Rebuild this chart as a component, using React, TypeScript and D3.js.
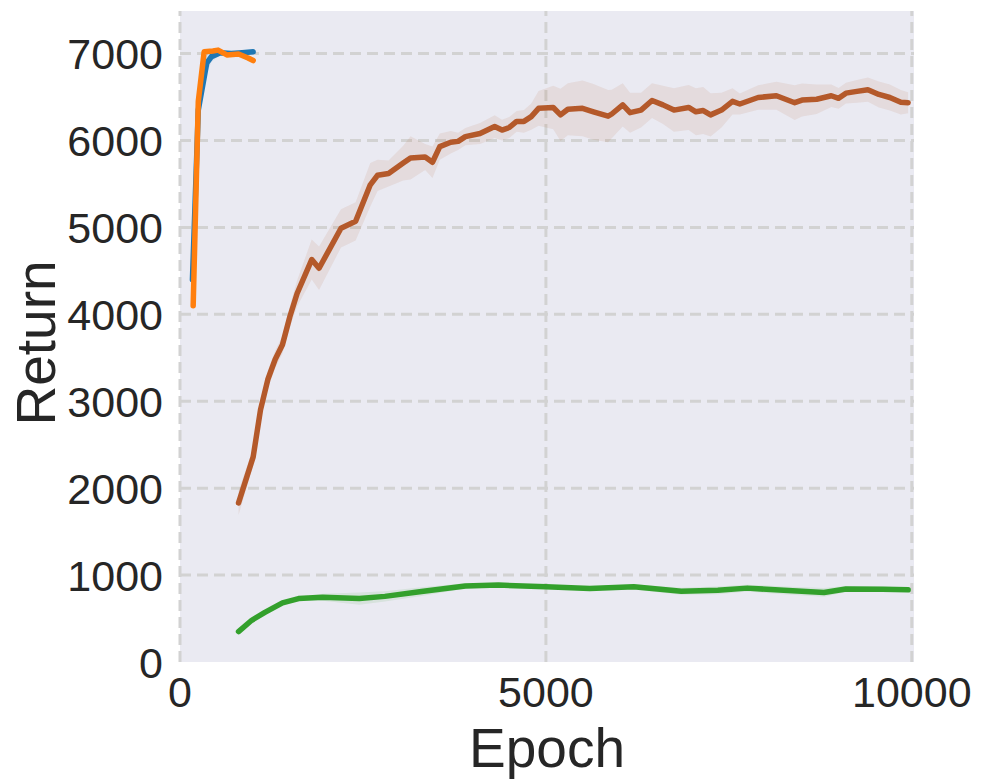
import React, { useEffect, useRef } from 'react';
import * as d3 from 'd3';

// blue run
const blueEpochs = [170, 250, 365, 430, 550, 700, 850, 1000];
const blueValues = [4400, 6350, 6890, 6965, 7010, 7000, 7010, 7020];
const blueSpread = [60, 150, 120, 60, 30, 20, 20, 20];

// orange run
const orangeEpochs = [180, 250, 330, 450, 520, 640, 800, 930, 1000];
const orangeValues = [4100, 6450, 7020, 7030, 7040, 6985, 6995, 6950, 6920];
const orangeSpread = [120, 80, 20, 20, 20, 25, 25, 30, 35];

// brown run
const brownEpochs = [800, 1000, 1100, 1200, 1300, 1400, 1500, 1600, 1800, 1900, 2200, 2400, 2600, 2700, 2850,
  3050, 3150, 3350, 3450, 3550, 3700, 3800, 3900, 4100, 4300, 4400, 4500, 4600, 4700, 4800, 4900, 5100, 5200,
  5300, 5500, 5650, 5850, 5900, 6050, 6150, 6300, 6450, 6600, 6750, 6950, 7050, 7150, 7250, 7400, 7550, 7650,
  7900, 8150, 8400, 8500, 8700, 8900, 9000, 9100, 9250, 9400, 9550, 9700, 9850, 9950];
const brownValues = [1830, 2360, 2900, 3250, 3480, 3650, 3970, 4240, 4630, 4530, 4990, 5070, 5490, 5600, 5620,
  5740, 5800, 5810, 5750, 5930, 5980, 5990, 6045, 6080, 6160, 6120, 6150, 6220, 6220, 6275, 6370, 6380, 6295,
  6360, 6370, 6330, 6280, 6305, 6410, 6320, 6350, 6460, 6410, 6350, 6380, 6330, 6345, 6295, 6350, 6450, 6420,
  6495, 6515, 6435, 6465, 6475, 6515, 6485, 6545, 6565, 6585, 6530, 6495, 6440, 6435];
const brownSpread = [140, 100, 100, 100, 100, 100, 120, 150, 230, 250, 220, 220, 250, 180, 150,
  200, 250, 150, 180, 150, 130, 100, 100, 120, 130, 120, 120, 120, 130, 150, 200, 250, 300,
  300, 320, 320, 300, 280, 250, 230, 200, 200, 220, 250, 260, 270, 270, 250, 200, 150, 120,
  140, 160, 200, 190, 170, 130, 120, 120, 130, 140, 150, 150, 140, 120];

// green run
const greenEpochs = [800, 980, 1160, 1400, 1620, 1950, 2450, 2800, 3300, 3900, 4350, 5000, 5600, 6200, 6850,
  7350, 7750, 8250, 8800, 9100, 9600, 9950];
const greenValues = [350, 480, 570, 680, 730, 745, 730, 755, 810, 875, 885, 865, 845, 865, 815,
  825, 850, 825, 800, 840, 838, 830];
const greenSpread = [10, 15, 20, 20, 20, 40, 70, 60, 50, 30, 25, 20, 25, 30, 40,
  45, 40, 45, 50, 35, 30, 25];

const xTicks = [0, 5000, 10000];
const yTicks = [0, 1000, 2000, 3000, 4000, 5000, 6000, 7000];

const series = [
  { name: 'brown', color: '#b4592a', epochs: brownEpochs, values: brownValues, spread: brownSpread },
  { name: 'green', color: '#33a02c', epochs: greenEpochs, values: greenValues, spread: greenSpread },
  { name: 'blue', color: '#1f77b4', epochs: blueEpochs, values: blueValues, spread: blueSpread },
  { name: 'orange', color: '#ff7f0e', epochs: orangeEpochs, values: orangeValues, spread: orangeSpread },
];

const App = () => {
  const svgRef = useRef<SVGSVGElement>(null);

  useEffect(() => {
    const width = 984;
    const height = 784;
    const margin = { top: 11, right: 70, bottom: 122, left: 180 };
    const font = '"Liberation Sans", Arial, sans-serif';
    const textColor = '#262626';

    const x = d3.scaleLinear().domain([0, 10030]).range([margin.left, width - margin.right]);
    const y = d3.scaleLinear().domain([0, 7490]).range([height - margin.bottom, margin.top]);

    const svg = d3.select(svgRef.current);
    svg.selectAll('*').remove();

    // plot background
    svg.append('rect')
      .attr('x', margin.left)
      .attr('y', margin.top)
      .attr('width', x.range()[1] - x.range()[0])
      .attr('height', y.range()[0] - y.range()[1])
      .attr('fill', '#eaeaf2');

    // dashed grid
    const grid = svg.append('g')
      .attr('stroke', '#d2d2d2')
      .attr('stroke-width', 3)
      .attr('stroke-dasharray', '11,6');
    grid.selectAll('.hgrid')
      .data(yTicks.filter(t => t > 0))
      .join('line')
      .attr('x1', x.range()[0])
      .attr('x2', x.range()[1])
      .attr('y1', d => y(d))
      .attr('y2', d => y(d));
    grid.selectAll('.vgrid')
      .data(xTicks)
      .join('line')
      .attr('x1', d => x(d))
      .attr('x2', d => x(d))
      .attr('y1', y.range()[0])
      .attr('y2', y.range()[1]);

    // bands then lines
    series.forEach(s => {
      const pts = s.epochs.map((e, i) => ({ e, v: s.values[i], sd: s.spread[i] }));
      const area = d3.area<any>()
        .x(d => x(d.e))
        .y0(d => y(d.v - d.sd))
        .y1(d => y(d.v + d.sd));
      svg.append('path')
        .attr('d', area(pts))
        .attr('fill', s.color)
        .attr('fill-opacity', 0.1);
    });

    series.forEach(s => {
      const pts = s.epochs.map((e, i) => ({ e, v: s.values[i] }));
      const line = d3.line<any>()
        .x(d => x(d.e))
        .y(d => y(d.v));
      svg.append('path')
        .attr('d', line(pts))
        .attr('fill', 'none')
        .attr('stroke', s.color)
        .attr('stroke-width', 5.5)
        .attr('stroke-linecap', 'round')
        .attr('stroke-linejoin', 'round');
    });

    // tick labels
    svg.append('g')
      .selectAll('text')
      .data(yTicks)
      .join('text')
      .attr('x', 163)
      .attr('y', d => y(d) + 15.5)
      .attr('text-anchor', 'end')
      .attr('font-family', font)
      .attr('font-size', 43)
      .attr('fill', textColor)
      .text(d => d);

    svg.append('g')
      .selectAll('text')
      .data(xTicks)
      .join('text')
      .attr('x', d => x(d))
      .attr('y', 707)
      .attr('text-anchor', 'middle')
      .attr('font-family', font)
      .attr('font-size', 43)
      .attr('fill', textColor)
      .text(d => d);

    // axis labels
    svg.append('text')
      .attr('x', 547)
      .attr('y', 767)
      .attr('text-anchor', 'middle')
      .attr('font-family', font)
      .attr('font-size', 55)
      .attr('fill', textColor)
      .text('Epoch');

    svg.append('text')
      .attr('transform', 'translate(55,343) rotate(-90)')
      .attr('text-anchor', 'middle')
      .attr('font-family', font)
      .attr('font-size', 55)
      .attr('fill', textColor)
      .text('Return');
  }, []);

  return (
    <svg
      ref={svgRef}
      width={984}
      height={784}
      style={{ position: 'absolute', left: 0, top: 0, background: '#ffffff' }}
    />
  );
};

export default App;
